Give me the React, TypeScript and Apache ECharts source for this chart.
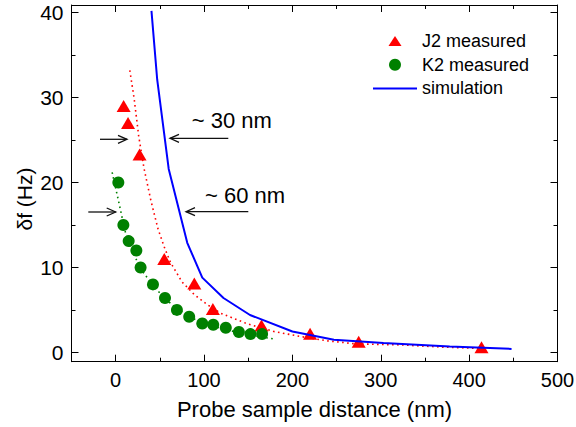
import React, { useEffect, useRef } from 'react';
import * as echarts from 'echarts';

const xMajorTicks = [0, 100, 200, 300, 400, 500];
const xMinorTicks = [50, 150, 250, 350, 450];
const yMajorTicks = [0, 10, 20, 30, 40];
const yMinorTicks = [5, 15, 25, 35];

const j2Measured = [
  [9, 29], [14, 27], [27, 23.3], [55, 11], [89, 8.1], [110, 5.1],
  [165, 3.15], [220, 2.2], [275, 1.25], [414, 0.6],
];
const k2Measured = [
  [3, 20], [8.7, 15], [14.7, 13.1], [23.4, 12], [28.2, 10], [42.2, 8],
  [55.8, 6.4], [69.3, 5], [83.2, 4.2], [98, 3.4], [110.4, 3.25],
  [124.6, 2.9], [139.4, 2.4], [152.5, 2.15], [165.7, 2.15],
];
const j2Fit = [
  [16, 33.2], [21, 29.8], [26, 25.5], [32, 21.7], [40, 17.8], [48, 14.5],
  [55, 12.4], [62, 10.6], [75, 8.3], [89, 6.8], [104, 5.6], [119, 4.6],
  [149, 3.36], [179, 2.46], [209, 1.87], [239, 1.36], [272, 1.0],
  [322, 0.88], [370, 0.62], [415, 0.45],
];
const k2Fit = [
  [-4, 21.2], [2, 18.4], [6, 16.5], [10, 14.5], [15, 12.8], [22, 11.2],
  [30, 9.6], [42, 7.9], [56, 6.3], [70, 5.1], [85, 4.1], [100, 3.4],
  [120, 2.8], [140, 2.3], [160, 1.9], [181, 1.55],
];
const simulation = [
  [40.5, 40.2], [47, 32.1], [60, 21.6], [81, 12.9], [98, 8.8], [122, 6.4],
  [152, 4.4], [200, 2.46], [247, 1.48], [303, 1.09], [378, 0.69], [448, 0.41],
];

const FONT = "'Liberation Sans', Arial, Helvetica, sans-serif";

const arrow = (x1: number, y: number, x2: number) => {
  const d = x2 > x1 ? 1 : -1;
  return [
    { type: 'line', shape: { x1, y1: y, x2, y2: y }, style: { stroke: '#111', lineWidth: 1.3 }, z: 20 },
    {
      type: 'polyline',
      shape: { points: [[x2 - d * 9, y - 4], [x2, y], [x2 - d * 9, y + 4]] },
      style: { stroke: '#111', lineWidth: 1.3, fill: null },
      z: 20,
    },
  ];
};

export default function App() {
  const ref = useRef<HTMLDivElement>(null);
  useEffect(() => {
    const chart = echarts.init(ref.current!, null, { renderer: 'svg' });

    const mkX = (position: string, ticks: number[], len: number, showLine: boolean, showLabel: boolean, extra: any = {}) => ({
      type: 'value', min: -50, max: 500, position,
      axisLine: { show: showLine, onZero: false, lineStyle: { color: '#000', width: 1 } },
      axisTick: { show: true, inside: true, length: len, customValues: ticks, lineStyle: { color: '#000', width: 1 } },
      axisLabel: showLabel
        ? { show: true, customValues: xMajorTicks, fontSize: 20, color: '#000', margin: 8, fontFamily: FONT }
        : { show: false },
      splitLine: { show: false },
      ...extra,
    });
    const mkY = (position: string, ticks: number[], len: number, showLine: boolean, showLabel: boolean) => ({
      type: 'value', min: -1.1, max: 40.9, position,
      axisLine: { show: showLine, onZero: false, lineStyle: { color: '#000', width: 1 } },
      axisTick: { show: true, inside: true, length: len, customValues: ticks, lineStyle: { color: '#000', width: 1 } },
      axisLabel: showLabel
        ? { show: true, customValues: yMajorTicks, fontSize: 21, color: '#000', margin: 8, fontFamily: FONT }
        : { show: false },
      splitLine: { show: false },
    });

    chart.setOption({
      animation: false,
      backgroundColor: '#fff',
      grid: { left: 71.5, right: 18.5, top: 5, bottom: 65.3, containLabel: false, outerBoundsMode: 'none' },
      xAxis: [
        mkX('bottom', xMajorTicks, 7, true, true, {
          name: 'Probe sample distance (nm)', nameLocation: 'middle', nameGap: 37,
          nameTextStyle: { fontSize: 22, color: '#000', fontFamily: FONT },
        }),
        mkX('bottom', xMinorTicks, 4, false, false),
        mkX('top', xMajorTicks, 7, true, false),
        mkX('top', xMinorTicks, 4, false, false),
      ],
      yAxis: [
        mkY('left', yMajorTicks, 7, true, true),
        mkY('left', yMinorTicks, 4, false, false),
        mkY('right', yMajorTicks, 7, true, false),
        mkY('right', yMinorTicks, 4, false, false),
      ],
      legend: {
        orient: 'vertical', align: 'left', left: 368, top: 27, itemWidth: 44, itemHeight: 12, itemGap: 5.7,
        selectedMode: false, symbolKeepAspect: true,
        textStyle: { fontSize: 18, color: '#000', fontFamily: FONT },
        data: [
          { name: 'J2 measured', icon: 'path://M0,0 M0,12 M0,11 L6.5,1 L13,11 Z' },
          { name: 'K2 measured', icon: 'circle' },
          { name: 'simulation', icon: 'path://M0,0 L44,0 L44,2 L0,2 Z' },
        ],
      },
      series: [
        {
          name: 'J2 fit', type: 'line', data: j2Fit, symbol: 'none', showSymbol: false, silent: true, z: 2,
          lineStyle: { color: '#ff0000', width: 1.6, type: [1.6, 3.4] },
        },
        {
          name: 'K2 fit', type: 'line', data: k2Fit, symbol: 'none', showSymbol: false, silent: true, z: 2,
          lineStyle: { color: '#008000', width: 1.6, type: [1.6, 3.4] },
        },
        {
          name: 'J2 measured', type: 'scatter', data: j2Measured, symbol: 'triangle', symbolSize: [14, 12], z: 3,
          itemStyle: { color: '#ff0000', opacity: 1 },
        },
        {
          name: 'K2 measured', type: 'scatter', data: k2Measured, symbol: 'circle', symbolSize: 12, z: 3,
          itemStyle: { color: '#008000', opacity: 1 },
        },
        {
          name: 'simulation', type: 'line', data: simulation, symbol: 'none', showSymbol: false, z: 4,
          lineStyle: { color: '#0000ff', width: 2 }, itemStyle: { color: '#0000ff' },
        },
      ],
      graphic: [
        ...arrow(100, 139.3, 127),
        ...arrow(228.3, 138.3, 170),
        ...arrow(88.3, 212, 115.7),
        ...arrow(248.3, 211.7, 186),
        {
          type: 'text', x: 191.7, y: 120.5, z: 20,
          style: { text: '~ 30 nm', fontSize: 22, fontFamily: FONT, fill: '#000', align: 'left', verticalAlign: 'middle' },
        },
        {
          type: 'text', x: 205, y: 195.5, z: 20,
          style: { text: '~ 60 nm', fontSize: 22, fontFamily: FONT, fill: '#000', align: 'left', verticalAlign: 'middle' },
        },
        {
          type: 'text', x: 24, y: 199, rotation: Math.PI / 2, z: 20,
          style: { text: 'δf (Hz)', fontSize: 21, fontFamily: FONT, fill: '#000', align: 'center', verticalAlign: 'middle' },
        },
      ],
    });
    return () => chart.dispose();
  }, []);
  return <div ref={ref} style={{ position: 'absolute', left: 0, top: 0, width: 576, height: 427 }} />;
}
